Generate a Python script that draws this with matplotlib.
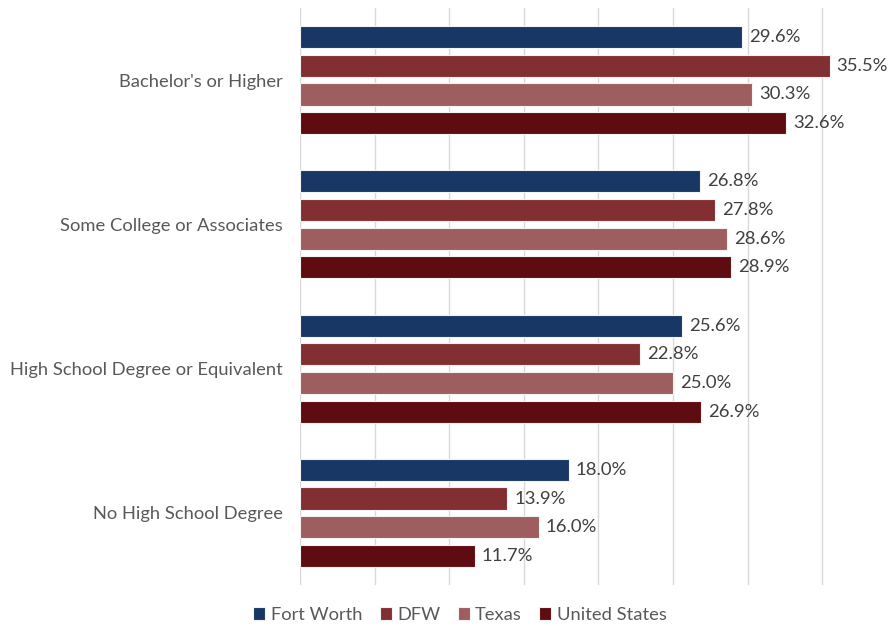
import numpy as np
import matplotlib.pyplot as plt

categories = ["Bachelor's or Higher", "Some College or Associates",
              "High School Degree or Equivalent", "No High School Degree"]
series = ["Fort Worth", "DFW", "Texas", "United States"]
fort_worth = [29.6, 26.8, 25.6, 18.0]
dfw = [35.5, 27.8, 22.8, 13.9]
texas = [30.3, 28.6, 25.0, 16.0]
united_states = [32.6, 28.9, 26.9, 11.7]
colors = ["#193764", "#822F31", "#9E5D5E", "#5E0C10"]

plt.rcParams['font.family'] = ['Lato', 'DejaVu Sans']

fig = plt.figure(figsize=(8.9, 6.26), dpi=100)
ax = fig.add_axes([300 / 890, 1 - 585 / 626, 582 / 890, 577 / 626])

y = np.arange(len(categories))
pitch = 0.199
height = 0.153
for i, (name, vals, c) in enumerate(zip(series, [fort_worth, dfw, texas, united_states], colors)):
    pos = y + (i - 1.5) * pitch
    bars = ax.barh(pos, vals, height=height, color=c, edgecolor="#f2f2f2",
                   linewidth=0.8, label=name, zorder=3)
    for b, v in zip(bars, vals):
        ax.annotate(f"{v:.1f}%", (v, b.get_y() + b.get_height() / 2),
                    xytext=(5, 0), textcoords="offset points",
                    va="center", ha="left", fontsize=13.3, color="#404040")

ax.set_ylim(3.5, -0.5)
ax.set_xlim(0, 39)
ax.set_xticks(np.arange(0, 36, 5))
ax.set_xticklabels([])
ax.set_yticks(y)
ax.set_yticklabels(categories, fontsize=13.2, color="#595959")
ax.tick_params(axis="y", length=0, pad=12.5)
ax.tick_params(axis="x", length=0)
ax.grid(axis="x", color="#d9d9d9", linewidth=1, zorder=0)
for s in ax.spines.values():
    s.set_visible(False)

fig.legend(loc="center", bbox_to_anchor=(460 / 890, 1 - 615 / 626), ncol=4,
           frameon=False, fontsize=13.2, handlelength=0.65, handleheight=0.65,
           handletextpad=0.3, columnspacing=0.95, labelcolor="#595959")

fig.savefig("out.png", dpi=100)
